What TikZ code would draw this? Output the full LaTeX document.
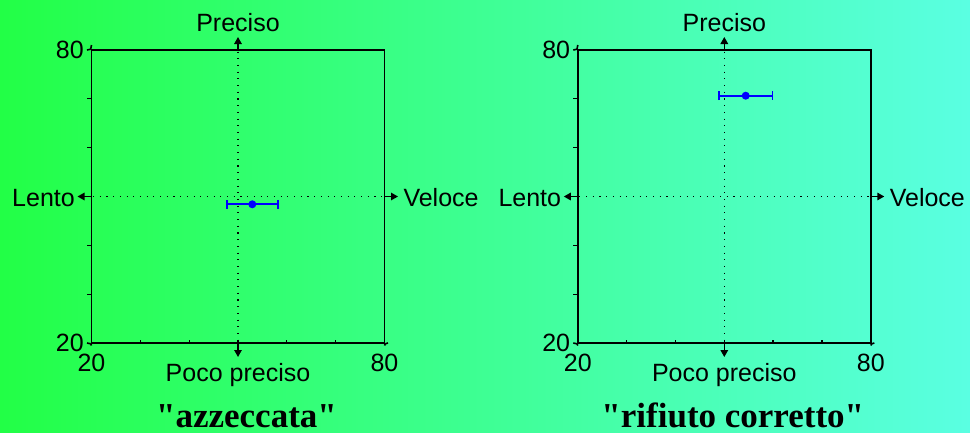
\documentclass[tikz,border=0pt]{standalone}
\usepackage{fontspec}
\setmainfont{Liberation Sans}
\newfontfamily\titlefont{Liberation Serif}
\usetikzlibrary{arrows.meta}
\definecolor{bgleft}{RGB}{34,255,70}
\definecolor{bgright}{RGB}{90,255,226}
\definecolor{barblue}{RGB}{0,0,255}
\tikzset{
  frame/.style={line width=1.6pt, draw=black},
  tickline/.style={line width=1.3pt, black},
  guide/.style={line width=1.1pt, black, dash pattern=on 1.1pt off 5.6pt},
  axarrow/.style={line width=1.4pt, black, -{Triangle[length=7pt,width=7.5pt]}},
  lbl/.style={font=\fontsize{25}{29}\selectfont, inner sep=0pt, text=black},
  ttl/.style={font=\titlefont\bfseries\fontsize{35}{40}\selectfont, inner sep=0pt, text=black, text depth=0pt},
  errbar/.style={draw=barblue, line width=1.8pt, {Bar[width=9pt]}-{Bar[width=9pt]}},
  ptdot/.style={circle, fill=barblue, inner sep=0pt, minimum size=8pt},
}
% #1 prefix, #2 x shift, #3 point x, #4 point y, #5 bar low x, #6 bar high x, #7 title
\newcommand\quadplot[7]{%
\begin{scope}[xshift=#2]
  \node[frame, minimum width=293pt, minimum height=293pt, inner sep=0pt] (#1-box) at (238,196.5) {};
  % axis extensions
  \draw[frame] (91.5,45) -- (#1-box.north west);
  \draw[frame] (#1-box.south west) -- (91.5,345.5);
  \draw[frame] (87,343) -- (#1-box.south west);
  \draw[frame] (#1-box.south east) -- (388,343);
  \draw[frame] (#1-box.south east) -- (384.5,345.5);
  \draw[frame] (87,50) -- (#1-box.north west);
  % ticks
  \foreach \k in {1,...,5} {
    \draw[tickline] (87,50+48.83*\k) -- (91.5,50+48.83*\k);
    \draw[tickline] (91.5+48.83*\k,343) -- (91.5+48.83*\k,339.5);
  }
  % guides
  \draw[guide] (238,51.5) -- (238,342);
  \draw[guide] (93,196.5) -- (383,196.5);
  % axis arrows
  \coordinate (#1-up) at (238,37);
  \coordinate (#1-down) at (238,357);
  \coordinate (#1-left) at (77.5,196.5);
  \coordinate (#1-right) at (398,196.5);
  \draw[axarrow] (#1-box.north) -- (#1-up);
  \draw[axarrow] (#1-box.south) -- (#1-down);
  \draw[axarrow] (#1-box.west) -- (#1-left);
  \draw[axarrow] (#1-box.east) -- (#1-right);
  % labels
  \node[lbl, anchor=base] (#1-prec) at (238,31) {Preciso};
  \node[lbl, anchor=base] (#1-poco) at (238,381.5) {Poco preciso};
  \node[lbl, anchor=base east] (#1-lento) at (75,206.5) {Lento};
  \node[lbl, anchor=base west] (#1-veloce) at (403.3,206.5) {Veloce};
  \node[lbl, anchor=east] (#1-y80) at (84,49.5) {80};
  \node[lbl, anchor=east] (#1-y20) at (84,343) {20};
  \node[lbl, anchor=base] (#1-x20) at (91.5,371.7) {20};
  \node[lbl, anchor=base] (#1-x80) at (384.5,371.7) {80};
  % data
  \coordinate (#1-lo) at (#5,#4);
  \coordinate (#1-hi) at (#6,#4);
  \draw[errbar] (#1-lo) -- (#1-hi);
  \node[ptdot] (#1-pt) at (#3,#4) {};
  % title
  \node[ttl, anchor=base] (#1-title) at (246.5,427) {#7};
\end{scope}}
\begin{document}
\begin{tikzpicture}[x=1pt, y=-1pt]
  \useasboundingbox (0,0) rectangle (970,432);
  \shade[left color=bgleft, right color=bgright] (0,0) rectangle (970,432);
  \quadplot{L}{0pt}{252.3}{204.3}{226}{279}{"azzeccata"}
  \quadplot{R}{486.3pt}{259.4}{95.7}{231.4}{287}{"rifiuto corretto"}
\end{tikzpicture}
\end{document}
